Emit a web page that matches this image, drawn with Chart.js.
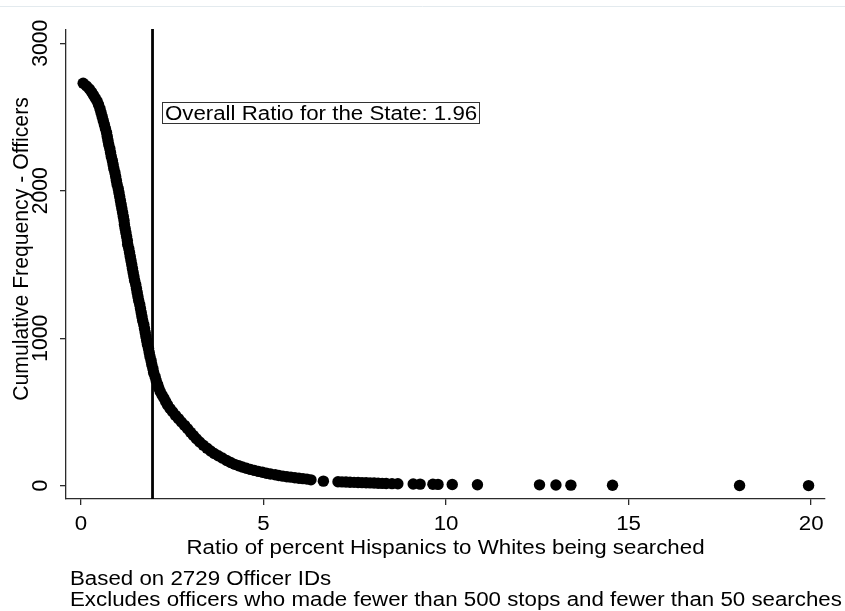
<!DOCTYPE html>
<html>
<head>
<meta charset="utf-8">
<script src="https://cdn.jsdelivr.net/npm/chart.js@4/dist/chart.umd.min.js"></script>
<style>
  html, body { margin: 0; padding: 0; background: #fff; }
  canvas { display: block; }
</style>
</head>
<body>
<canvas id="chart" width="845" height="611"></canvas>
<script>
// Ratio of Hispanic to White search percentages, one entry per plotted officer mark
const ratio = [
  0.06, 0.15, 0.23, 0.29, 0.34, 0.39, 0.44, 0.48, 0.52, 0.55,
  0.58, 0.61, 0.64, 0.67, 0.70, 0.72, 0.74, 0.76, 0.79, 0.81,
  0.83, 0.86, 0.88, 0.90, 0.93, 0.95, 0.97, 0.99, 1.02, 1.04,
  1.06, 1.08, 1.10, 1.12, 1.14, 1.16, 1.18, 1.19, 1.21, 1.23,
  1.25, 1.27, 1.28, 1.31, 1.33, 1.35, 1.37, 1.39, 1.41, 1.43,
  1.45, 1.47, 1.50, 1.52, 1.54, 1.56, 1.58, 1.61, 1.63, 1.65,
  1.67, 1.69, 1.72, 1.74, 1.76, 1.78, 1.80, 1.82, 1.85, 1.87,
  1.89, 1.92, 1.94, 1.97, 1.99, 2.03, 2.06, 2.10, 2.13, 2.17,
  2.22, 2.27, 2.32, 2.37, 2.44, 2.51, 2.59, 2.67, 2.75, 2.84,
  2.92, 3.00, 3.08, 3.16, 3.25, 3.35, 3.45, 3.55, 3.65, 3.76,
  3.87, 3.99, 4.10, 4.21, 4.32, 4.42, 4.53, 4.64, 4.75, 4.86,
  4.97, 5.08, 5.19, 5.32, 5.42, 5.53, 5.64, 5.75, 5.86, 5.97,
  6.08, 6.19, 6.30, 6.64,
  7.04, 7.15, 7.26, 7.37, 7.48, 7.59, 7.70, 7.81, 7.92, 8.03,
  8.14, 8.25, 8.36, 8.52, 8.68, 9.10, 9.29, 9.64, 9.78, 10.17,
  10.86, 12.56, 13.01, 13.42, 14.56, 18.04, 19.93
];

// Cumulative number of officers at or above each ratio
const cumFreq = [
  2729, 2710, 2690, 2669, 2649, 2629, 2608, 2585, 2557, 2530,
  2503, 2476, 2449, 2422, 2395, 2368, 2340, 2313, 2286, 2259,
  2232, 2205, 2178, 2151, 2123, 2096, 2069, 2042, 2015, 1988,
  1961, 1934, 1907, 1879, 1852, 1825, 1798, 1771, 1744, 1717,
  1690, 1662, 1635, 1608, 1581, 1554, 1527, 1500, 1473, 1445,
  1418, 1391, 1364, 1337, 1310, 1283, 1256, 1229, 1201, 1174,
  1147, 1120, 1093, 1066, 1039, 1012, 984, 957, 930, 903,
  876, 849, 822, 795, 767, 740, 713, 686, 662, 639,
  615, 595, 571, 548, 523, 501, 477, 455, 432, 409,
  386, 363, 341, 319, 297, 275, 255, 236, 218, 203,
  188, 171, 157, 145, 135, 127, 119, 111, 104, 97,
  91, 85, 80, 74, 69, 65, 61, 58, 54, 51,
  48, 45, 40, 31,
  27, 26, 25, 24, 23, 22, 21, 20, 19, 18,
  17, 16, 15, 14, 13, 12, 11, 10, 9, 8,
  7, 6, 5, 4, 3, 2, 1
];

const stateRatio = 1.96;
const xTicks = [0, 5, 10, 15, 20];
const yTicks = [0, 1000, 2000, 3000];

const xTitle = 'Ratio of percent Hispanics to Whites being searched';
const yTitle = 'Cumulative Frequency - Officers';
const notes = [
  'Based on 2729 Officer IDs',
  'Excludes officers who made fewer than 500 stops and fewer than 50 searches'
];
const refLabel = 'Overall Ratio for the State: ' + stateRatio.toFixed(2);

const FONT = '20px "Liberation Sans", Arial, sans-serif';
const STRETCH = 1.115;      // horizontal widening of the lettering
const V_ALONG = 1.06;       // length stretch for rotated lettering
const AXIS_COLOR = '#2b2b2b';

function drawText(ctx, s, x, y, align, vertical) {
  ctx.save();
  ctx.translate(x, y);
  if (vertical) {
    ctx.rotate(-Math.PI / 2);
    ctx.scale(V_ALONG, STRETCH);
  } else {
    ctx.scale(STRETCH, 1);
  }
  ctx.font = FONT;
  ctx.fillStyle = '#000';
  ctx.textAlign = align;
  ctx.textBaseline = 'alphabetic';
  ctx.fillText(s, 0, 0);
  ctx.restore();
}

const decorations = {
  id: 'decorations',
  beforeDraw(chart) {
    const ctx = chart.ctx;
    ctx.save();
    ctx.fillStyle = '#fff';
    ctx.fillRect(0, 0, chart.width, chart.height);
    // thin page rule along the top edge
    ctx.strokeStyle = '#e3eaee';
    ctx.lineWidth = 1;
    ctx.beginPath();
    ctx.moveTo(0, 6.5);
    ctx.lineTo(chart.width, 6.5);
    ctx.stroke();
    ctx.restore();
  },
  afterDraw(chart) {
    const ctx = chart.ctx;
    const xs = chart.scales.x, ys = chart.scales.y;
    const area = chart.chartArea;

    // reference line at the statewide ratio
    const lx = xs.getPixelForValue(stateRatio);
    ctx.save();
    ctx.strokeStyle = '#000';
    ctx.lineWidth = 2.8;
    ctx.beginPath();
    ctx.moveTo(lx, area.top - 1);
    ctx.lineTo(lx, area.bottom);
    ctx.stroke();
    ctx.restore();

    // boxed label next to the reference line
    const bx = xs.getPixelForValue(2.23);
    const by = ys.getPixelForValue(2605);
    ctx.save();
    ctx.font = FONT;
    const w = ctx.measureText(refLabel).width * STRETCH;
    ctx.fillStyle = '#fff';
    ctx.fillRect(bx, by, w + 5, 21);
    ctx.strokeStyle = '#333';
    ctx.lineWidth = 1;
    ctx.strokeRect(Math.round(bx) + 0.5, Math.round(by) + 0.5, Math.round(w + 5), 21);
    ctx.restore();
    drawText(ctx, refLabel, bx + 2.5, by + 18, 'left', false);

    // tick labels
    xTicks.forEach(v => drawText(ctx, String(v), xs.getPixelForValue(v), 530, 'center', false));
    yTicks.forEach(v => drawText(ctx, String(v), 47, ys.getPixelForValue(v), 'center', true));

    // axis titles and notes
    drawText(ctx, xTitle, (area.left + area.right) / 2, 554, 'center', false);
    drawText(ctx, yTitle, 28, 249, 'center', true);
    drawText(ctx, notes[0], 70, 585, 'left', false);
    drawText(ctx, notes[1], 70, 606, 'left', false);
  }
};

const points = ratio.map((r, i) => ({ x: r, y: cumFreq[i] }));

new Chart(document.getElementById('chart'), {
  type: 'scatter',
  data: {
    datasets: [{
      label: 'Officers',
      data: points,
      pointRadius: 5.7,
      pointHoverRadius: 5.7,
      pointBorderWidth: 0,
      pointBackgroundColor: '#000',
      pointBorderColor: '#000'
    }]
  },
  options: {
    responsive: false,
    animation: false,
    events: [],
    layout: { padding: { left: 0, right: 20, top: 30, bottom: 0 } },
    plugins: { legend: { display: false }, tooltip: { enabled: false }, title: { display: false } },
    scales: {
      x: {
        type: 'linear',
        min: -0.41,
        max: 20.38,
        afterBuildTicks: s => { s.ticks = xTicks.map(v => ({ value: v })); },
        afterFit: s => { s.height = 112; },
        ticks: { display: false },
        grid: { drawOnChartArea: false, drawTicks: true, tickLength: 6, color: AXIS_COLOR, lineWidth: 1.3 },
        border: { display: true, color: AXIS_COLOR, width: 1.3 }
      },
      y: {
        type: 'linear',
        min: -90,
        max: 3090,
        afterBuildTicks: s => { s.ticks = yTicks.map(v => ({ value: v })); },
        afterFit: s => { s.width = 66; },
        ticks: { display: false },
        grid: { drawOnChartArea: false, drawTicks: true, tickLength: 6, color: AXIS_COLOR, lineWidth: 1.3 },
        border: { display: true, color: AXIS_COLOR, width: 1.3 }
      }
    }
  },
  plugins: [decorations]
});
</script>
</body>
</html>
